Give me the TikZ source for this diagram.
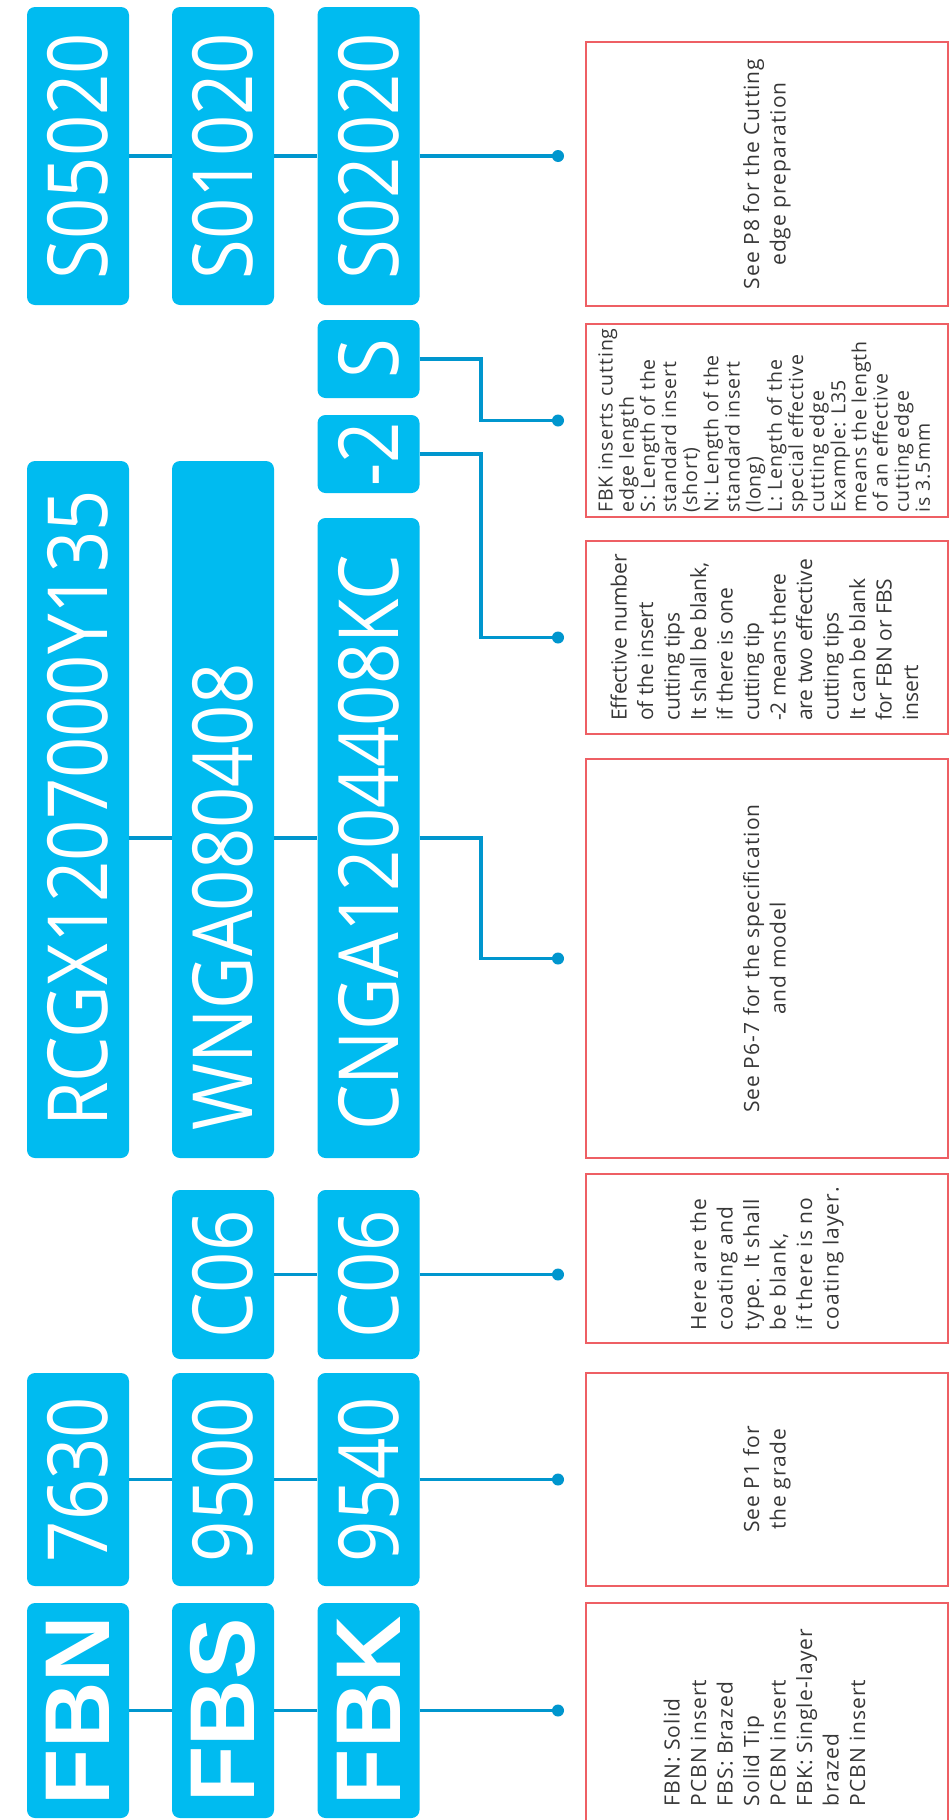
\documentclass[tikz,border=0pt]{standalone}
\usepackage{fontspec}
\setmainfont{Open Sans}
\newfontfamily\widefont{Open Sans}[LetterSpace=5]
\newfontfamily\codefont{Open Sans}[FakeStretch=0.87]
\newfontfamily\brandfont{Liberation Sans}
\definecolor{boxblue}{RGB}{0,187,240}
\definecolor{linkblue}{RGB}{0,150,206}
\definecolor{boxred}{RGB}{238,95,100}
\definecolor{txtgray}{RGB}{55,55,55}
\tikzset{
  code/.style={fill=boxblue, rounded corners=8pt, minimum width=102pt, inner sep=0pt,
    text=white, font=\codefont\fontsize{83}{83}\selectfont},
  codetext/.style={inner sep=0pt, text=white, font=\codefont\fontsize{83}{83}\selectfont},
  brand/.style={code, font=\brandfont\bfseries\fontsize{92}{92}\selectfont},
  note/.style={draw=boxred, line width=1.8pt, minimum width=362pt, inner sep=0pt,
    text=txtgray, font=\widefont\fontsize{21}{26.5}\selectfont},
  plainnote/.style={note, font=\rmfamily\fontsize{21}{26.5}\selectfont},
  smallnote/.style={note, font=\widefont\fontsize{19.5}{21}\selectfont},
  link/.style={draw=linkblue, line width=3.4pt},
  tip/.style={fill=linkblue},
}
\newcommand{\rl}[1]{\rotatebox{90}{\begin{tabular}{@{}l@{}}#1\end{tabular}}}
\newcommand{\rc}[1]{\rotatebox{90}{\begin{tabular}{@{}c@{}}#1\end{tabular}}}
\newcommand{\rt}[1]{\rotatebox{90}{#1}}
\begin{document}
\begin{tikzpicture}[x=1pt,y=-1pt]
\clip (0,0) rectangle (949,1820);
\fill[white] (0,0) rectangle (949,1820);

% ---- blue code boxes ----
\node[code, minimum height=298pt] (s1) at (78,156) {\rt{S05020}};
\node[code, minimum height=298pt] (s2) at (223,156) {\rt{S01020}};
\node[code, minimum height=298pt] (s3) at (368.5,156) {\rt{S02020}};

\node[code, minimum height=78pt] (len) at (368.5,359) {\rt{S}};
\node[code, minimum height=78pt] (tips) at (368.5,454) {\rt{-2}};

\node[code, minimum height=697pt] (m1) at (78,809.5) {};
\node[code, minimum height=697pt] (m2) at (223,809.5) {};
\node[code, minimum height=640pt] (m3) at (368.5,838) {};
\node[codetext, rotate=90, anchor=west] (m1t) at (78,1127) {RCGX1207000Y135};
\node[codetext, rotate=90, anchor=west] (m2t) at (223,1131) {WNGA080408};
\node[codetext, rotate=90, anchor=west] (m3t) at (368.5,1131) {CNGA1204408KC};

\node[code, minimum height=169pt] (c2) at (223,1274.5) {\rt{C06}};
\node[code, minimum height=169pt] (c3) at (368.5,1274.5) {\rt{C06}};

\node[code, minimum height=213pt] (g1) at (78,1479.5) {\rt{7630}};
\node[code, minimum height=213pt] (g2) at (223,1479.5) {\rt{9500}};
\node[code, minimum height=213pt] (g3) at (368.5,1479.5) {\rt{9540}};

\node[brand, minimum height=215pt] (f1) at (78,1710.5) {\rt{FBN}};
\node[brand, minimum height=215pt] (f2) at (223,1710.5) {\rt{FBS}};
\node[brand, minimum height=215pt] (f3) at (368.5,1710.5) {\rt{FBK}};

% ---- red note boxes ----
\node[note, minimum height=264pt] (n1) at (767,174) {\rc{See P8 for the Cutting\\edge preparation}};
\node[smallnote, minimum height=193pt] (n2) at (767,420.5) {\rl{FBK inserts cutting\\edge length\\S: Length of the\\standard insert\\(short)\\N: Length of the\\standard insert\\(long)\\L: Length of the\\special effective\\cutting edge\\Example: L35\\means the length\\of an effective\\cutting edge\\is 3.5mm}};
\node[plainnote, minimum height=193pt] (n3) at (767,637.5) {\rl{Effective number\\of the insert\\cutting tips\\It shall be blank,\\if there is one\\cutting tip\\-2 means there\\are two effective\\cutting tips\\It can be blank\\for FBN or FBS\\insert}};
\node[note, minimum height=399pt] (n4) at (767,958.5) {\rc{See P6-7 for the specification\\and model}};
\node[note, minimum height=169pt] (n5) at (767,1258.5) {\rl{Here are the\\coating and\\type. It shall\\be blank,\\if there is no\\coating layer.}};
\node[note, minimum height=213pt] (n6) at (767,1479.5) {\rc{See P1 for\\the grade}};
\node[note, minimum height=229pt] (n7) at (767,1717.5) {\rl{FBN: Solid\\PCBN insert\\FBS: Brazed\\Solid Tip\\PCBN insert\\FBK: Single-layer\\brazed\\PCBN insert}};

% ---- connector ends ----
\coordinate (bend) at (481,0);
\coordinate (d1) at (558,156);
\coordinate (d2) at (558,420.5);
\coordinate (d3) at (558,637.5);
\coordinate (d4) at (558,958.5);
\coordinate (d5) at (558,1274.5);
\coordinate (d6) at (558,1479.5);
\coordinate (d7) at (558,1710.5);

% ---- connectors ----
\draw[link] (s1.east) -- (s2.west);
\draw[link] (s2.east) -- (s3.west);
\draw[link] (s3.east) -- (d1);

\draw[link] (len.east) -- (len.east -| bend) |- (d2);
\draw[link] (tips.east) -- (tips.east -| bend) |- (d3);

\draw[link] (m1.east |- m3.east) -- (m2.west |- m3.east);
\draw[link] (m2.east |- m3.east) -- (m3.west);
\draw[link] (m3.east) -- (m3.east -| bend) |- (d4);

\draw[link] (c2.east) -- (c3.west);
\draw[link] (c3.east) -- (d5);

\draw[link] (g1.east) -- (g2.west);
\draw[link] (g2.east) -- (g3.west);
\draw[link] (g3.east) -- (d6);

\draw[link] (f1.east) -- (f2.west);
\draw[link] (f2.east) -- (f3.west);
\draw[link] (f3.east) -- (d7);

\foreach \d in {d1,d2,d3,d4,d5,d6,d7} \fill[tip] (\d) circle (6pt);
\end{tikzpicture}
\end{document}
